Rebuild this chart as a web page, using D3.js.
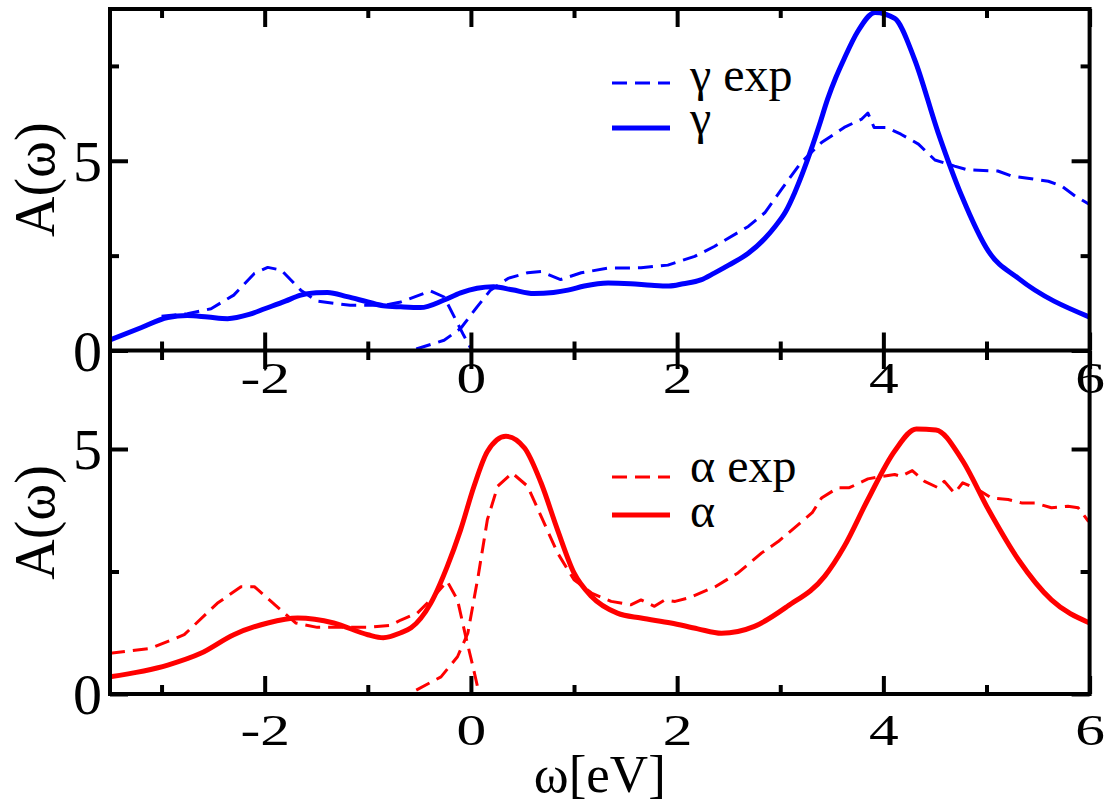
<!DOCTYPE html>
<html><head><meta charset="utf-8">
<script src="https://cdn.jsdelivr.net/npm/d3@7"></script>
<style>
@font-face{font-family:"ChartSerif";src:local("Liberation Serif"),local("LiberationSerif"),local("Tinos"),local("Times New Roman");}
svg text{font-family:"ChartSerif","Liberation Serif",Tinos,monospace;}
</style>
</head>
<body style="margin:0">
<svg id="c" width="1104" height="802" font-family="Liberation Serif"></svg>
<script>
// ---------- data ----------
const xMajorTicks = [-2, 0, 2, 4, 6];
const xMinorTicks = [-3, -1, 1, 3, 5];
const yTopMajor = [0, 5];
const yTopMinor = [2.5, 7.5];
const yBotMajor = [0, 5];
const yBotMinor = [2.5];

// top panel: gamma (theory, solid)
const gammaX = [-3.5,-3.2,-2.94,-2.75,-2.55,-2.36,-2.15,-2.0,-1.8,-1.65,-1.5,-1.39,-1.2,-1.0,-0.85,-0.68,-0.49,-0.26,-0.1,0.06,0.22,0.4,0.61,0.8,0.94,1.1,1.33,1.55,1.75,1.92,2.06,2.23,2.36,2.5,2.69,2.85,2.95,3.05,3.14,3.22,3.30,3.38,3.46,3.54,3.62,3.75,3.92,4.11,4.30,4.53,4.76,5.02,5.31,6.0];
const gammaY = [0.28,0.6,0.87,0.92,0.88,0.84,0.95,1.1,1.3,1.46,1.52,1.53,1.42,1.28,1.18,1.15,1.13,1.33,1.52,1.64,1.68,1.6,1.5,1.53,1.59,1.7,1.78,1.76,1.72,1.7,1.76,1.86,2.04,2.25,2.56,2.95,3.27,3.65,4.16,4.7,5.3,5.95,6.63,7.2,7.69,8.4,8.91,8.75,7.69,5.75,4.07,2.61,1.9,0.88];
// top panel: gamma exp (occupied branch)
const gammaExpOccX = [-3.0,-2.75,-2.52,-2.3,-2.1,-1.97,-1.84,-1.65,-1.49,-1.17,-0.84,-0.68,-0.39,-0.26,-0.16,-0.07,0.0];
const gammaExpOccY = [0.9,0.97,1.1,1.46,2.03,2.19,2.12,1.59,1.3,1.19,1.19,1.28,1.57,1.41,0.88,0.4,0.05];
// top panel: gamma exp (unoccupied branch)
const gammaExpUnoccX = [-0.53,-0.26,-0.1,0.06,0.19,0.36,0.55,0.68,0.87,1.07,1.33,1.65,1.91,2.17,2.36,2.69,2.85,3.01,3.2,3.4,3.62,3.79,3.85,3.91,4.03,4.17,4.34,4.5,4.69,4.82,5.11,5.24,5.6,5.73,5.86,6.0];
const gammaExpUnoccY = [0.04,0.27,0.58,1.15,1.59,1.9,2.05,2.08,1.87,2.05,2.17,2.18,2.25,2.48,2.74,3.27,3.63,4.24,4.95,5.48,5.88,6.1,6.26,5.88,5.88,5.7,5.44,5.02,4.86,4.76,4.73,4.6,4.46,4.33,4.07,3.85];

// bottom panel: alpha (theory, solid)
const alphaX = [-3.5,-2.94,-2.62,-2.3,-1.97,-1.68,-1.33,-1.0,-0.85,-0.68,-0.58,-0.39,-0.23,-0.1,0.03,0.16,0.34,0.52,0.68,0.84,1.0,1.17,1.42,1.65,1.94,2.2,2.43,2.75,3.07,3.43,3.62,3.85,4.11,4.32,4.51,4.76,5.02,5.31,5.63,6.0];
const alphaY = [0.35,0.59,0.83,1.21,1.45,1.55,1.45,1.21,1.15,1.25,1.35,1.85,2.6,3.35,4.24,4.95,5.26,5.02,4.31,3.35,2.47,1.99,1.65,1.55,1.45,1.33,1.24,1.38,1.79,2.4,3.01,3.97,4.96,5.41,5.39,4.79,3.76,2.74,1.92,1.45];
// bottom panel: alpha exp (occupied branch)
const alphaExpOccX = [-3.5,-3.11,-2.78,-2.46,-2.23,-2.1,-1.9,-1.7,-1.49,-1.0,-0.78,-0.68,-0.52,-0.36,-0.23,-0.13,-0.05,0.02,0.08];
const alphaExpOccY = [0.83,0.93,1.21,1.85,2.19,2.19,1.82,1.45,1.36,1.36,1.4,1.51,1.65,1.99,2.3,1.92,1.17,0.56,0.0];
// bottom panel: alpha exp (unoccupied branch)
const alphaExpUnoccX = [-0.53,-0.29,-0.13,-0.03,0.07,0.16,0.26,0.4,0.55,0.68,0.84,1.0,1.17,1.36,1.55,1.65,1.78,1.88,1.98,2.11,2.37,2.59,2.82,2.98,3.31,3.4,3.56,3.67,3.85,3.98,4.11,4.17,4.28,4.4,4.53,4.59,4.69,4.77,4.92,5.05,5.21,5.34,5.47,5.63,5.79,5.89,5.99];
const alphaExpUnoccY = [0.08,0.35,0.76,1.24,2.4,3.56,4.24,4.51,4.24,3.63,2.88,2.33,2.06,1.89,1.82,1.92,1.79,1.92,1.89,1.96,2.19,2.47,2.88,3.11,3.7,4.0,4.21,4.21,4.39,4.44,4.48,4.44,4.56,4.34,4.21,4.34,4.1,4.31,4.17,4.0,3.97,3.9,3.9,3.8,3.83,3.8,3.52];

const legendTop = ["γ exp", "γ"];
const legendBot = ["α exp", "α"];
const yTitle = "A(ω)";
const xTitle = "ω[eV]";

// ---------- layout ----------
const svg = d3.select("#c");
const L = 110, R = 1089.6;
const x = d3.scaleLinear().domain([-3.5, 6]).range([L, R]);
const yT = d3.scaleLinear().domain([0, 9]).range([350.5, 9]);
const yB = d3.scaleLinear().domain([0, 7]).range([694, 351]);
const BLUE = "#0000ff", RED = "#ff0000";

const defs = svg.append("defs");
defs.append("clipPath").attr("id","clipT").append("rect").attr("x",L).attr("y",yT(9)).attr("width",R-L).attr("height",yT(0)-yT(9));
defs.append("clipPath").attr("id","clipB").append("rect").attr("x",L).attr("y",yB(7)).attr("width",R-L).attr("height",yB(0)-yB(7));

function series(xs, ys){ return xs.map((v,i)=>[v, ys[i]]); }

function drawLine(g, data, yS, color, dashed, curve){
  const line = d3.line().x(d=>x(d[0])).y(d=>yS(d[1])).curve(curve);
  g.append("path").datum(data).attr("d", line).attr("fill","none")
    .attr("stroke", color).attr("stroke-width", dashed ? 3 : 5)
    .attr("stroke-linejoin","round")
    .attr("stroke-dasharray", dashed ? "15,8" : null);
}

const gT = svg.append("g").attr("clip-path","url(#clipT)");
drawLine(gT, series(gammaExpOccX, gammaExpOccY), yT, BLUE, true, d3.curveLinear);
drawLine(gT, series(gammaExpUnoccX, gammaExpUnoccY), yT, BLUE, true, d3.curveLinear);
drawLine(gT, series(gammaX, gammaY), yT, BLUE, false, d3.curveMonotoneX);

const gB = svg.append("g").attr("clip-path","url(#clipB)");
drawLine(gB, series(alphaExpOccX, alphaExpOccY), yB, RED, true, d3.curveLinear);
drawLine(gB, series(alphaExpUnoccX, alphaExpUnoccY), yB, RED, true, d3.curveLinear);
drawLine(gB, series(alphaX, alphaY), yB, RED, false, d3.curveMonotoneX);

// ---------- axes ----------
const MAJ = 18, MIN = 9, SW = 4;
const FSTYLE = "font-family:'Liberation Serif',Tinos,'ChartSerif',monospace;";
function addAxis(gen, tx, ty, vals, len, labels){
  const g = svg.append("g").attr("transform", `translate(${tx},${ty})`)
    .call(gen.tickValues(vals).tickSize(-len).tickFormat(labels ? (d=>String(d)) : ""));
  g.attr("font-family", null).attr("font-size", null);
  g.select(".domain").remove();
  g.selectAll(".tick line").attr("stroke","#000").attr("stroke-width",SW);
  return g;
}
function xLabels(g, y){
  g.selectAll("text").attr("y", y).attr("dy", null)
    .attr("style", FSTYLE + "font-size:44px;")
    .attr("transform","scale(1.35,1)").attr("fill","#000");
}
function yLabels(g){
  g.selectAll("text").attr("x", -8).attr("dy","0.34em")
    .attr("style", FSTYLE + "font-size:58px;").attr("fill","#000");
}
// top panel
xLabels(addAxis(d3.axisBottom(x), 0, yT(0), xMajorTicks, MAJ, true), 42.5);
addAxis(d3.axisBottom(x), 0, yT(0), xMinorTicks, MIN, false);
addAxis(d3.axisTop(x), 0, yT(9), xMajorTicks, MAJ, false);
addAxis(d3.axisTop(x), 0, yT(9), xMinorTicks, MIN, false);
yLabels(addAxis(d3.axisLeft(yT), L, 0, yTopMajor, MAJ, true));
addAxis(d3.axisLeft(yT), L, 0, yTopMinor, MIN, false);
addAxis(d3.axisRight(yT), R, 0, yTopMajor, MAJ, false);
addAxis(d3.axisRight(yT), R, 0, yTopMinor, MIN, false);
// bottom panel
xLabels(addAxis(d3.axisBottom(x), 0, yB(0), xMajorTicks, MAJ, true), 51);
addAxis(d3.axisBottom(x), 0, yB(0), xMinorTicks, MIN, false);
addAxis(d3.axisTop(x), 0, yB(7), xMajorTicks, MAJ, false);
addAxis(d3.axisTop(x), 0, yB(7), xMinorTicks, MIN, false);
yLabels(addAxis(d3.axisLeft(yB), L, 0, yBotMajor, MAJ, true));
addAxis(d3.axisLeft(yB), L, 0, yBotMinor, MIN, false);
addAxis(d3.axisRight(yB), R, 0, yBotMajor, MAJ, false);
addAxis(d3.axisRight(yB), R, 0, yBotMinor, MIN, false);

// frames
svg.append("rect").attr("x",L).attr("y",yT(9)).attr("width",R-L).attr("height",yT(0)-yT(9))
  .attr("fill","none").attr("stroke","#000").attr("stroke-width",SW);
svg.append("path").attr("d",`M${L},${yB(7)}V${yB(0)}H${R}V${yB(7)}`)
  .attr("fill","none").attr("stroke","#000").attr("stroke-width",SW);

// titles
function txt(size){ return svg.append("text").attr("style", FSTYLE + `font-size:${size}px;`).attr("fill","#000"); }
txt(56).attr("transform",`translate(54,${(yT(0)+yT(9))/2}) rotate(-90)`)
  .attr("text-anchor","middle").text(yTitle);
txt(56).attr("transform",`translate(54,${(yB(0)+yB(7))/2}) rotate(-90)`)
  .attr("text-anchor","middle").text(yTitle);
txt(53).attr("x",(L+R)/2).attr("y",792).attr("text-anchor","middle").text(xTitle);

// legends
function legend(items, color, lineYs, textYs){
  items.forEach((t,i)=>{
    svg.append("line").attr("x1",612).attr("x2",670).attr("y1",lineYs[i]).attr("y2",lineYs[i])
      .attr("stroke",color).attr("stroke-width", i===0 ? 3 : 5)
      .attr("stroke-dasharray", i===0 ? "15,8" : null);
    txt(48).attr("x",690).attr("y",textYs[i]).text(t);
  });
}
legend(legendTop, BLUE, [83, 128], [91, 134]);
legend(legendBot, RED, [477, 515], [482, 527]);
</script>
</body></html>
